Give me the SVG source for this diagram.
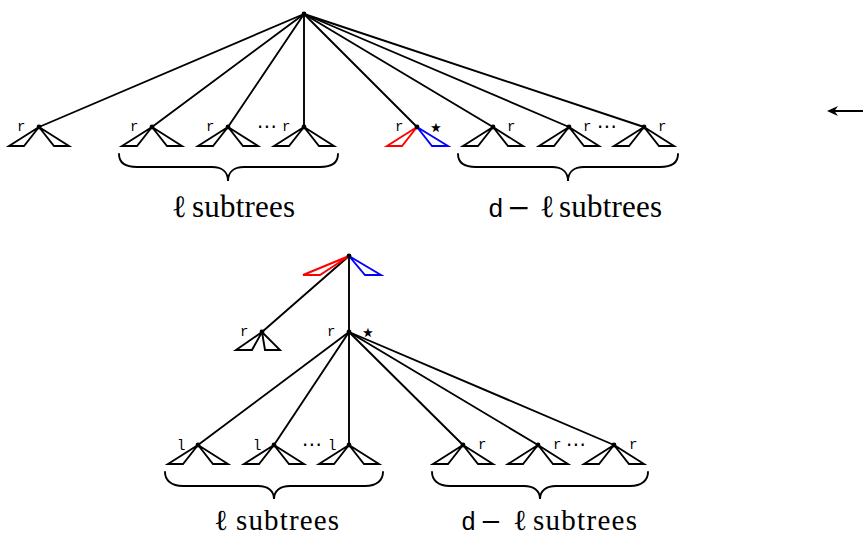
<svg xmlns="http://www.w3.org/2000/svg" xmlns:xlink="http://www.w3.org/1999/xlink" width="863" height="537" viewBox="0 0 863 537">
<style>
.ln{stroke:#000;stroke-width:1.9;fill:none;stroke-linecap:round}
.tri{stroke-width:1.9;fill:none;stroke-linejoin:miter}
.k{stroke:#000}
.red{stroke:#ff0000}
.blue{stroke:#0000ff}
.dot{fill:#000}
.tt{font-family:"Liberation Mono","DejaVu Sans Mono",monospace;font-size:14px;fill:#000}
.dots{font-family:"DejaVu Sans",sans-serif;font-size:20px;fill:#000;text-anchor:middle}
.star{font-family:"DejaVu Sans",sans-serif;font-size:26px;fill:#000;text-anchor:middle}
.lab{font-family:"Liberation Serif","DejaVu Serif",serif;font-size:31px;fill:#000}
.labb{font-family:"Liberation Serif","DejaVu Serif",serif;font-size:29px;fill:#000}
.ttl{font-family:"Liberation Mono","DejaVu Sans Mono",monospace}
.mn{font-family:"DejaVu Serif",serif}
</style>
<defs>
<path id="lt" d="M0,0 L-30,19 L-15,19 Z"/>
<path id="rt" d="M0,0 L15,19 L30,19 Z"/>
<g id="sub">
<use xlink:href="#lt" class="tri k"/>
<use xlink:href="#rt" class="tri k"/>
<circle r="2.4" class="dot"/>
</g>
</defs>

<g id="connectors">
<line class="ln" x1="304" y1="14" x2="39" y2="127"/>
<line class="ln" x1="304" y1="14" x2="152" y2="127"/>
<line class="ln" x1="304" y1="14" x2="228" y2="127"/>
<line class="ln" x1="304" y1="14" x2="304" y2="127"/>
<line class="ln" x1="304" y1="14" x2="417" y2="127"/>
<line class="ln" x1="304" y1="14" x2="493" y2="127"/>
<line class="ln" x1="304" y1="14" x2="569" y2="127"/>
<line class="ln" x1="304" y1="14" x2="644" y2="127"/>
<line class="ln" x1="349" y1="256" x2="262" y2="332"/>
<line class="ln" x1="349" y1="256" x2="349" y2="332"/>
<line class="ln" x1="349" y1="332" x2="198" y2="445"/>
<line class="ln" x1="349" y1="332" x2="274" y2="445"/>
<line class="ln" x1="349" y1="332" x2="349" y2="445"/>
<line class="ln" x1="349" y1="332" x2="463" y2="445"/>
<line class="ln" x1="349" y1="332" x2="538" y2="445"/>
<line class="ln" x1="349" y1="332" x2="614" y2="445"/>
<line class="ln" x1="834" y1="111" x2="863" y2="111"/>
<path d="M827,111 L838,106 L834.5,111 L838,116 Z" fill="#000"/>
</g>

<g id="root-top"><circle cx="304" cy="14" r="2.4" class="dot"/></g>

<g id="t1"><use xlink:href="#sub" x="39" y="127"/><text class="tt" x="17" y="131">r</text></g>
<g id="t2"><use xlink:href="#sub" x="152" y="127"/><text class="tt" x="130" y="131">r</text></g>
<g id="t3"><use xlink:href="#sub" x="228" y="127"/><text class="tt" x="206" y="131">r</text></g>
<text class="dots" x="267" y="133">⋯</text>
<g id="t4"><use xlink:href="#sub" x="304" y="127"/><text class="tt" x="282" y="131">r</text></g>
<g id="t5">
<path d="M417,127 L387,146 L402,146 Z" class="tri red"/>
<path d="M417,127 L432,146 L448,146 Z" class="tri blue"/>
<circle cx="417" cy="127" r="2.4" class="dot"/>
<text class="tt" x="395" y="131">r</text>
<text class="star" x="436" y="136">⋆</text>
</g>
<g id="t6"><use xlink:href="#sub" x="493" y="127"/><text class="tt" x="507" y="131">r</text></g>
<g id="t7"><use xlink:href="#sub" x="569" y="127"/><text class="tt" x="583" y="131">r</text></g>
<text class="dots" x="607" y="133">⋯</text>
<g id="t8"><use xlink:href="#sub" x="644" y="127"/><text class="tt" x="658" y="131">r</text></g>

<g id="brace-top-left"><path class="ln" d="M119,154 C119,162 125,167 137,167 L212,167 C222,167 228,172 228,181 C228,172 234,167 244,167 L320,167 C332,167 338,162 338,154"/></g>
<g id="brace-top-right"><path class="ln" d="M458,154 C458,162 464,167 476,167 L552,167 C562,167 568,172 568,181 C568,172 574,167 584,167 L660,167 C672,167 678,162 678,154"/></g>

<g id="label-top-left"><text class="lab" y="217"><tspan x="172">ℓ</tspan><tspan x="192" textLength="103" lengthAdjust="spacing">subtrees</tspan></text></g>
<g id="label-top-right"><text class="lab" y="217"><tspan x="488" class="ttl" font-size="26">d</tspan><tspan x="507" class="mn" font-size="28">−</tspan><tspan x="540">ℓ</tspan><tspan x="559" textLength="103" lengthAdjust="spacing">subtrees</tspan></text></g>

<g id="root-bottom">
<path d="M349,256 L303,275 L320,275 Z" class="tri red"/>
<path d="M349,256 L365,275 L381,275 Z" class="tri blue"/>
<circle cx="349" cy="256" r="2.4" class="dot"/>
</g>
<g id="b-left">
<path d="M262,332 L236,350 L252,350 Z" class="tri k"/>
<path d="M262,332 L265,350 L280,350 Z" class="tri k"/>
<circle cx="262" cy="332" r="2.4" class="dot"/>
<text class="tt" x="240" y="336">r</text>
</g>
<g id="b-mid">
<circle cx="349" cy="332" r="2.4" class="dot"/>
<text class="tt" x="327" y="336">r</text>
<text class="star" x="368" y="341">⋆</text>
</g>

<g id="b1"><use xlink:href="#sub" x="198" y="445"/><text class="tt" x="177" y="450">l</text></g>
<g id="b2"><use xlink:href="#sub" x="274" y="445"/><text class="tt" x="253" y="450">l</text></g>
<text class="dots" x="312" y="451">⋯</text>
<g id="b3"><use xlink:href="#sub" x="349" y="445"/><text class="tt" x="328" y="450">l</text></g>
<g id="b4"><use xlink:href="#sub" x="463" y="445"/><text class="tt" x="478" y="449">r</text></g>
<g id="b5"><use xlink:href="#sub" x="538" y="445"/><text class="tt" x="553" y="449">r</text></g>
<text class="dots" x="576" y="451">⋯</text>
<g id="b6"><use xlink:href="#sub" x="614" y="445"/><text class="tt" x="629" y="449">r</text></g>

<g id="brace-bottom-left"><path class="ln" d="M165,472 C165,480 171,486 183,486 L258,486 C268,486 274,491 274,499 C274,491 280,486 290,486 L365,486 C377,486 383,480 383,472"/></g>
<g id="brace-bottom-right"><path class="ln" d="M432,472 C432,480 438,486 450,486 L524,486 C534,486 540,491 540,499 C540,491 546,486 556,486 L630,486 C642,486 648,480 648,472"/></g>

<g id="label-bottom-left"><text class="labb" y="530"><tspan x="214">ℓ</tspan><tspan x="236" textLength="103" lengthAdjust="spacing">subtrees</tspan></text></g>
<g id="label-bottom-right"><text class="labb" y="530"><tspan x="461" class="ttl" font-size="25">d</tspan><tspan x="480" class="mn" font-size="26">−</tspan><tspan x="513">ℓ</tspan><tspan x="533" textLength="104" lengthAdjust="spacing">subtrees</tspan></text></g>
</svg>
